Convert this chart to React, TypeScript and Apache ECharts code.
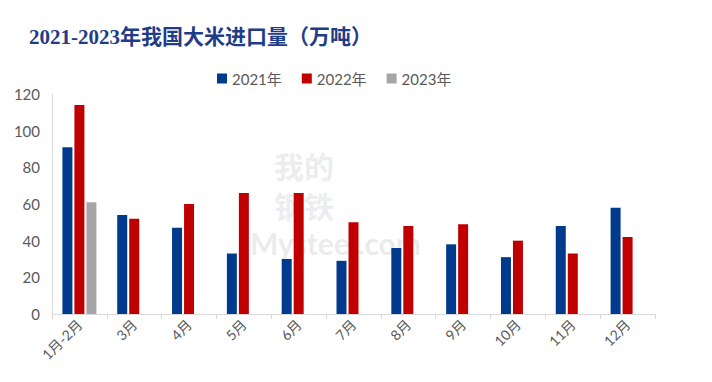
import React, { useEffect, useRef } from "react";
import * as echarts from "echarts";

const categories = ["1月-2月", "3月", "4月", "5月", "6月", "7月", "8月", "9月", "10月", "11月", "12月"];
const seriesNames = ["2021年", "2022年", "2023年"];
const values2021 = [91, 54, 47, 33, 30, 29, 36, 38, 31, 48, 58];
const values2022 = [114, 52, 60, 66, 66, 50, 48, 49, 40, 33, 42];
const values2023: (number | null)[] = [61, null, null, null, null, null, null, null, null, null, null];
const colors = ["#003A8C", "#C00000", "#A6A6A6"];
const yTicks = { min: 0, max: 120, interval: 20 };

const labelFont = "Lato, 'Noto Sans CJK SC', sans-serif";

export default function App() {
  const ref = useRef<HTMLDivElement>(null);
  useEffect(() => {
    if (!ref.current) return;
    const chart = echarts.init(ref.current, null, { renderer: "svg" });
    const data = [values2021, values2022, values2023];
    chart.setOption({
      animation: false,
      backgroundColor: "#ffffff",
      title: {
        text: "2021-2023年我国大米进口量（万吨）",
        left: 24,
        top: 21,
        textStyle: {
          color: "#1F3C88",
          fontSize: 21,
          fontWeight: "bold",
          fontFamily: "'Liberation Serif', 'Noto Sans CJK SC', serif",
        },
      },
      legend: {
        top: 66,
        left: 212,
        itemWidth: 10,
        itemHeight: 10,
        itemGap: 20,
        icon: "rect",
        textStyle: { color: "#595959", fontSize: 15, fontFamily: labelFont },
        data: seriesNames,
      },
      graphic: [
        {
          type: "text",
          left: 274,
          top: 150,
          style: {
            text: "我的",
            fill: "rgba(150,160,180,0.2)",
            font: "bold 30px 'Noto Sans CJK SC'",
          },
        },
        {
          type: "text",
          left: 274,
          top: 190,
          style: {
            text: "钢铁",
            fill: "rgba(150,160,180,0.2)",
            font: "bold 30px 'Noto Sans CJK SC'",
          },
        },
        {
          type: "text",
          left: 250,
          top: 228,
          style: {
            text: "Mysteel.com",
            fill: "rgba(150,150,150,0.2)",
            font: "bold 30px Lato",
          },
        },
      ],
      grid: { left: 52, right: 57, top: 94, bottom: 68, containLabel: false },
      xAxis: {
        type: "category",
        data: categories,
        axisLine: { lineStyle: { color: "#D9D9D9", width: 1 } },
        axisTick: { show: true, alignWithLabel: false, length: 5, lineStyle: { color: "#D9D9D9" } },
        axisLabel: {
          rotate: 45,
          color: "#595959",
          fontSize: 14,
          fontFamily: labelFont,
          margin: 8,
          interval: 0,
        },
      },
      yAxis: {
        type: "value",
        min: yTicks.min,
        max: yTicks.max,
        interval: yTicks.interval,
        axisLine: { show: true, lineStyle: { color: "#D9D9D9", width: 1 } },
        axisTick: { show: false },
        splitLine: { show: false },
        axisLabel: { color: "#595959", fontSize: 15, fontFamily: labelFont, margin: 12 },
      },
      series: seriesNames.map((name, i) => ({
        name,
        type: "bar",
        data: data[i],
        barWidth: 10,
        barGap: "20%",
        itemStyle: { color: colors[i] },
      })),
    });
    return () => chart.dispose();
  }, []);
  return <div ref={ref} style={{ width: 712, height: 382, position: "absolute", left: 0, top: 0 }} />;
}
